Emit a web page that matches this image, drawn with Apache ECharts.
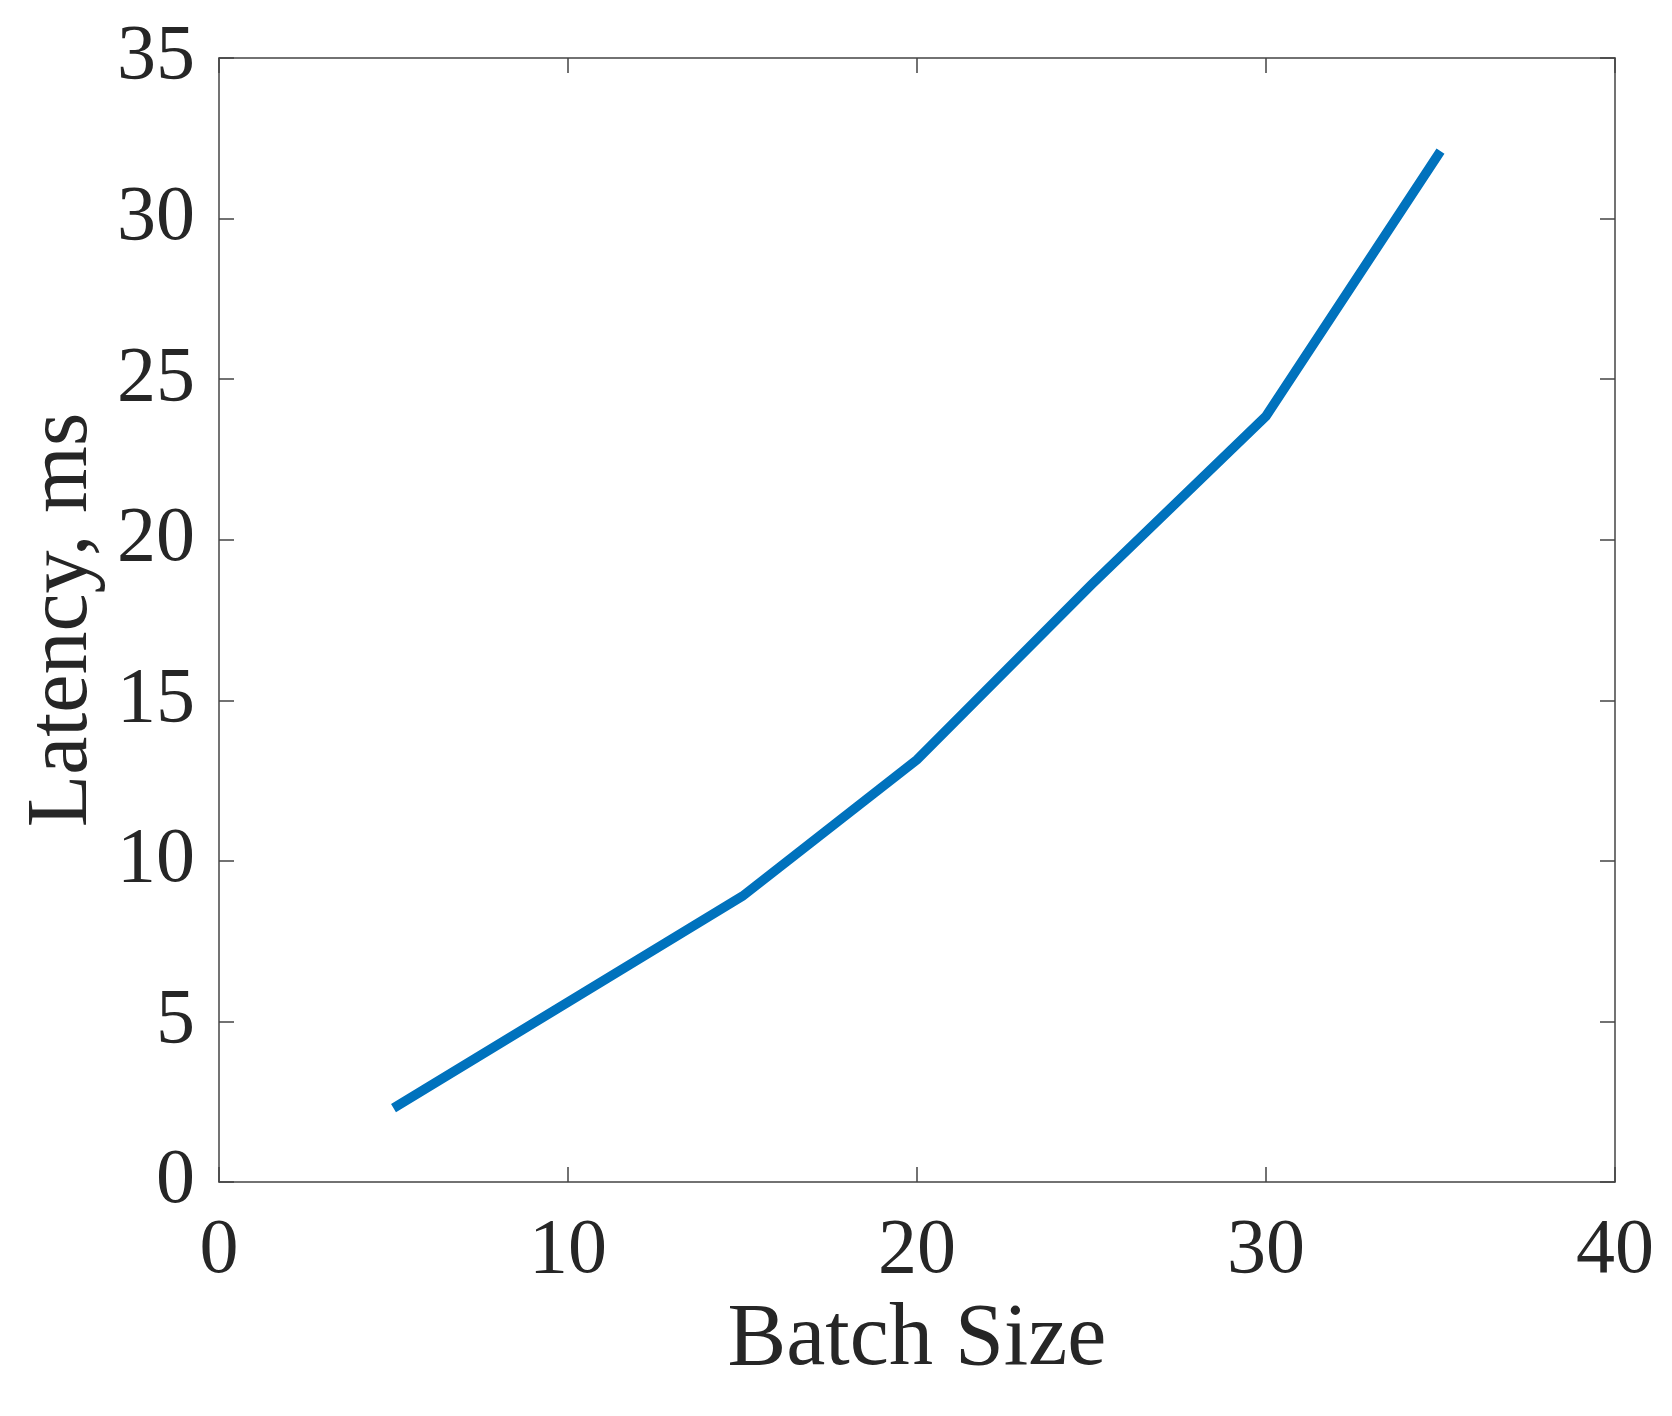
<!DOCTYPE html>
<html>
<head>
<meta charset="utf-8">
<script src="https://cdn.jsdelivr.net/npm/echarts@6/dist/echarts.min.js"></script>
<style>
  html, body { margin: 0; padding: 0; background: #fff; }
  #chart { width: 1672px; height: 1416px; }
</style>
</head>
<body>
<div id="chart"></div>
<script>
// data
const batchSize = [5, 10, 15, 20, 25, 30, 35]
const latency = [2.3, 5.6, 8.9, 13.15, 18.6, 23.85, 32.1]

const xTicks = [0, 10, 20, 30, 40]
const yTicks = [0, 5, 10, 15, 20, 25, 30, 35]

const textColor = '#262626'
const axisColor = '#444'
const font = 'Liberation Serif'

const chart = echarts.init(document.getElementById('chart'), null, {renderer: 'canvas'})

// shared style for the box axes
const boxAxis = (extra) => Object.assign({
  type: 'value',
  axisLine: {show: true, onZero: false, lineStyle: {color: axisColor, width: 1.5}},
  axisTick: {show: true, inside: true, length: 15, lineStyle: {color: axisColor, width: 1.5}},
  splitLine: {show: false},
}, extra)

const options = {
  animation: false,
  backgroundColor: '#fff',
  grid: {left: 219, right: 57, top: 58, bottom: 234, containLabel: false, outerBoundsMode: 'none'},
  xAxis: [
    boxAxis({
      min: xTicks[0], max: xTicks[xTicks.length - 1], interval: 10,
      position: 'bottom',
      name: 'Batch Size',
      nameLocation: 'middle',
      nameGap: 115,
      nameTextStyle: {fontFamily: font, fontSize: 88, color: textColor},
      axisLabel: {margin: 31, fontFamily: font, fontSize: 78, color: textColor},
    }),
    boxAxis({
      min: xTicks[0], max: xTicks[xTicks.length - 1], interval: 10,
      position: 'top',
      axisLabel: {show: false},
    }),
  ],
  yAxis: [
    boxAxis({
      min: yTicks[0], max: yTicks[yTicks.length - 1], interval: 5,
      position: 'left',
      name: 'Latency, ms',
      nameLocation: 'middle',
      nameGap: 112,
      nameRotate: 90,
      nameTextStyle: {fontFamily: font, fontSize: 86, color: textColor},
      axisLabel: {margin: 24, fontFamily: font, fontSize: 78, color: textColor},
    }),
    boxAxis({
      min: yTicks[0], max: yTicks[yTicks.length - 1], interval: 5,
      position: 'right',
      axisLabel: {show: false},
    }),
  ],
  series: [
    {
      type: 'line',
      data: batchSize.map((b, i) => [b, latency[i]]),
      showSymbol: false,
      symbol: 'none',
      lineStyle: {color: '#0072BD', width: 9.5, cap: 'butt', join: 'miter'},
    }
  ]
}

chart.setOption(options)
</script>
</body>
</html>
